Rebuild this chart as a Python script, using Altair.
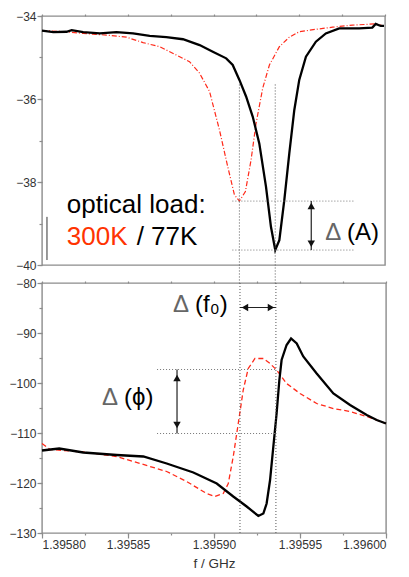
import altair as alt
import pandas as pd

FONT = "Liberation Sans"
RED = "#ff2a1a"
GRAY = "#8c8c8c"

# ---------- data ----------
# top panel: transmitted amplitude (dB)
top_77k_f = [1.3958000, 1.3958066, 1.3958143, 1.3958173, 1.3958240, 1.3958337, 1.3958434,
             1.3958531, 1.3958628, 1.3958725, 1.3958822, 1.3958919, 1.3958996, 1.3959074,
             1.3959112, 1.3959151, 1.3959190, 1.3959229, 1.3959267, 1.3959306, 1.3959335,
             1.3959360, 1.3959384, 1.3959413, 1.3959442, 1.3959471, 1.3959500, 1.3959539,
             1.3959597, 1.3959655, 1.3959733, 1.3959849, 1.3959926, 1.3959946, 1.3959975,
             1.3959994]
top_77k_v = [-34.35, -34.39, -34.38, -34.34, -34.39, -34.42, -34.39,
             -34.42, -34.48, -34.51, -34.56, -34.70, -34.86, -35.02,
             -35.18, -35.54, -35.94, -36.43, -37.07, -38.11, -39.08,
             -39.64, -39.40, -38.43, -37.31, -36.27, -35.54, -34.98,
             -34.62, -34.42, -34.30, -34.30, -34.28, -34.19, -34.24,
             -34.24]
top_300k_f = [1.3958000, 1.3958143, 1.3958240, 1.3958376, 1.3958492, 1.3958589, 1.3958686,
              1.3958783, 1.3958860, 1.3958919, 1.3958977, 1.3959035, 1.3959083, 1.3959122,
              1.3959151, 1.3959186, 1.3959219, 1.3959248, 1.3959287, 1.3959326, 1.3959384,
              1.3959442, 1.3959500, 1.3959597, 1.3959694, 1.3959810, 1.3959946, 1.3959994]
top_300k_v = [-34.35, -34.38, -34.42, -34.46, -34.51, -34.64, -34.74,
              -34.94, -35.10, -35.38, -35.82, -36.75, -37.63, -38.31,
              -38.46, -38.23, -37.47, -36.59, -35.74, -35.18, -34.74,
              -34.51, -34.38, -34.32, -34.27, -34.22, -34.19, -34.24]

# bottom panel: phase (deg)
bot_77k_f = [1.3958000, 1.3958100, 1.3958240, 1.3958434, 1.3958589, 1.3958725, 1.3958880,
             1.3959016, 1.3959112, 1.3959190, 1.3959258, 1.3959287, 1.3959306, 1.3959326,
             1.3959345, 1.3959364, 1.3959380, 1.3959393, 1.3959422, 1.3959448, 1.3959481,
             1.3959519, 1.3959597, 1.3959694, 1.3959791, 1.3959888, 1.3959946, 1.3960000]
bot_77k_v = [-113.5, -113.1, -113.9, -114.4, -114.7, -116.1, -117.9,
             -120.1, -122.7, -124.7, -126.6, -126.1, -124.1, -119.4,
             -112.7, -106.1, -99.4, -95.4, -92.4, -91.1, -92.1,
             -94.7, -98.1, -102.1, -104.4, -106.4, -107.4, -108.1]
bot_300k_f = [1.3958000, 1.3958047, 1.3958240, 1.3958434, 1.3958570, 1.3958725, 1.3958841,
              1.3958957, 1.3959006, 1.3959054, 1.3959083, 1.3959112, 1.3959141, 1.3959170,
              1.3959199, 1.3959238, 1.3959287, 1.3959326, 1.3959364, 1.3959422, 1.3959500,
              1.3959597, 1.3959694, 1.3959791, 1.3959888, 1.3960000]
bot_300k_v = [-112.1, -113.3, -113.8, -114.7, -116.1, -117.7, -119.7,
              -122.1, -122.7, -122.1, -120.1, -114.7, -108.1, -101.4,
              -97.1, -95.1, -95.1, -96.1, -97.4, -100.1, -102.1,
              -104.1, -105.1, -105.7, -106.7, -108.1]

# resonance positions (dotted markers)
f_res_300k = 1.3959151
f_res_77k = 1.3959360

x_major = [1.39580, 1.39585, 1.39590, 1.39595, 1.39600]
x_minor = [1.395800, 1.395825, 1.395850, 1.395875, 1.395900, 1.395925, 1.395950, 1.395975, 1.396000]
top_y_major = [-40, -38, -36, -34]
top_y_minor = [-40, -39, -38, -37, -36, -35, -34]
bot_y_major = [-130, -120, -110, -100, -90, -80]
bot_y_minor = [-130, -125, -120, -115, -110, -105, -100, -95, -90, -85, -80]

XDOM = [1.3958, 1.3960]
TOPDOM = [-40, -34]
BOTDOM = [-130, -80]

# annotation values
top_levels = [-38.46, -39.64]
top_level_span = [1.3959110, 1.3959820]
top_arrow_f = 1.3959570
bot_levels = [-97.3, -110.1]
bot_level_span = [1.3958669, 1.3959366]
bot_arrow_f = 1.3958785
f0_arrow_v = -84.9


def X(axis=None, field="f"):
    return alt.X(f"{field}:Q", scale=alt.Scale(domain=XDOM, nice=False, zero=False), axis=axis)


def Y(dom, axis=None, field="v"):
    return alt.Y(f"{field}:Q", scale=alt.Scale(domain=dom, nice=False, zero=False), axis=axis)


def ticks_axis(orient, values, size, labels=False, fmt=None, **kw):
    args = dict(orient=orient, values=values, tickSize=size, labels=labels, grid=False,
                domain=False, tickColor=GRAY, tickWidth=1.2, title=None)
    if labels:
        args.update(labelFont=FONT, labelFontSize=12, labelColor="#333", labelPadding=1)
    if fmt:
        args["format"] = fmt
    args.update(kw)
    return alt.Axis(**args)


def line(f, v, dom, color, width, dash=None, xaxis=None, yaxis=None):
    df = pd.DataFrame({"f": f, "v": v})
    kw = dict(color=color, strokeWidth=width)
    if dash:
        kw["strokeDash"] = dash
    return alt.Chart(df).mark_line(**kw).encode(x=X(xaxis), y=Y(dom, yaxis))


def vrules(fs, v1, v2, dom):
    df = pd.DataFrame({"f": fs, "v": [v1] * len(fs), "v2": [v2] * len(fs)})
    return alt.Chart(df).mark_rule(color="#555", strokeDash=[1, 2], strokeWidth=1).encode(
        x=X(), y=Y(dom), y2="v2:Q")


def hrules(vs, span, dom):
    df = pd.DataFrame({"f": [span[0]] * len(vs), "f2": [span[1]] * len(vs), "v": vs})
    return alt.Chart(df).mark_rule(color="#777", strokeDash=[1, 2], strokeWidth=1).encode(
        x=X(), x2="f2:Q", y=Y(dom))


def vertical_arrow(f, v_top, v_bot, head_top, head_bot, dom):
    shaft = alt.Chart(pd.DataFrame({"f": [f], "v": [v_top], "v2": [v_bot]})).mark_rule(
        color="#222", strokeWidth=1.2).encode(x=X(), y=Y(dom), y2="v2:Q")
    heads = alt.Chart(pd.DataFrame({"f": [f, f], "v": [head_top, head_bot],
                                    "s": ["triangle-up", "triangle-down"]})).mark_point(
        filled=True, color="#111", size=55, opacity=1).encode(
        x=X(), y=Y(dom), shape=alt.Shape("s:N", scale=None, legend=None))
    return shaft + heads


def text(f, v, s, dom, size, color="#000", align="left"):
    return alt.Chart(pd.DataFrame({"f": [f], "v": [v], "t": [s]})).mark_text(
        font=FONT, fontSize=size, color=color, align=align, baseline="middle").encode(
        x=X(), y=Y(dom), text="t:N")


# ---------- top panel ----------
top = alt.layer(
    line(top_300k_f, top_300k_v, TOPDOM, RED, 1.2, [5, 2, 1, 2],
         xaxis=ticks_axis("top", x_minor, 2),
         yaxis=ticks_axis("left", top_y_minor, 3)),
    line(top_77k_f, top_77k_v, TOPDOM, "#000", 2.3,
         yaxis=ticks_axis("left", top_y_major, 5, labels=True, fmt="d")),
    vrules([f_res_300k, f_res_77k], -35.65, -40.45, TOPDOM),
    hrules(top_levels, top_level_span, TOPDOM),
    vertical_arrow(top_arrow_f, top_levels[0], top_levels[1], -38.58, -39.49, TOPDOM),
    alt.Chart(pd.DataFrame({"f": [1.3958029], "v": [-38.84], "v2": [-39.88]})).mark_rule(
        color="#333", strokeWidth=1).encode(x=X(), y=Y(TOPDOM), y2="v2:Q"),
    text(1.3959698, -39.22, "Δ", TOPDOM, 24, color="#666", align="center"),
    text(1.3959779, -39.22, "(A)", TOPDOM, 24),
    text(1.3958145, -38.55, "optical load:", TOPDOM, 26),
    text(1.3958145, -39.33, "300K", TOPDOM, 26, color="#ff3300"),
    text(1.3958552, -39.33, "/ 77K", TOPDOM, 26),
).resolve_axis(x="independent", y="independent").properties(width=343, height=249)

# ---------- bottom panel ----------
bottom = alt.layer(
    line(bot_300k_f, bot_300k_v, BOTDOM, RED, 1.3, [5, 3],
         xaxis=ticks_axis("top", x_minor, 2),
         yaxis=ticks_axis("left", bot_y_minor, 3)),
    line(bot_77k_f, bot_77k_v, BOTDOM, "#000", 2.3,
         xaxis=ticks_axis("bottom", x_major, 5, labels=True, fmt=".5f",
                          title="f / GHz", titleFont=FONT, titleFontSize=13.5,
                          titleFontWeight="normal", titleColor="#333", titlePadding=6),
         yaxis=ticks_axis("left", bot_y_major, 5, labels=True, fmt="d")),
    line(bot_300k_f, bot_300k_v, BOTDOM, RED, 0,
         xaxis=ticks_axis("bottom", x_minor, 2)),
    vrules([f_res_300k, f_res_77k], -80, -130, BOTDOM),
    hrules(bot_levels, bot_level_span, BOTDOM),
    vertical_arrow(bot_arrow_f, bot_levels[0], bot_levels[1], -99.0, -108.4, BOTDOM),
    alt.Chart(pd.DataFrame({"f": [f_res_300k], "f2": [f_res_77k], "v": [f0_arrow_v]})).mark_rule(
        color="#222", strokeWidth=1.2).encode(x=X(), x2="f2:Q", y=Y(BOTDOM)),
    alt.Chart(pd.DataFrame({"f": [1.3959180, 1.3959331], "v": [f0_arrow_v, f0_arrow_v],
                            "s": ["triangle-left", "triangle-right"]})).mark_point(
        filled=True, color="#111", size=55, opacity=1).encode(
        x=X(), y=Y(BOTDOM), shape=alt.Shape("s:N", scale=None, legend=None)),
    text(1.3958395, -103.0, "Δ", BOTDOM, 24, color="#666", align="center"),
    text(1.3958477, -103.0, "(ϕ)", BOTDOM, 24),
    text(1.3958808, -84.4, "Δ", BOTDOM, 24, color="#666", align="center"),
    text(1.3958890, -84.4, "(f₀)", BOTDOM, 24),
).resolve_axis(x="independent", y="independent").properties(width=344, height=250)

chart = alt.vconcat(top, bottom, spacing=18, bounds="flush").properties(
    padding={"left": 8, "top": 9, "right": 0, "bottom": 0},
    background="white",
).configure_view(stroke=GRAY, strokeWidth=1.4).configure_axis(domain=False)

chart.save("out.html", embed_options={"renderer": "svg", "actions": False})
